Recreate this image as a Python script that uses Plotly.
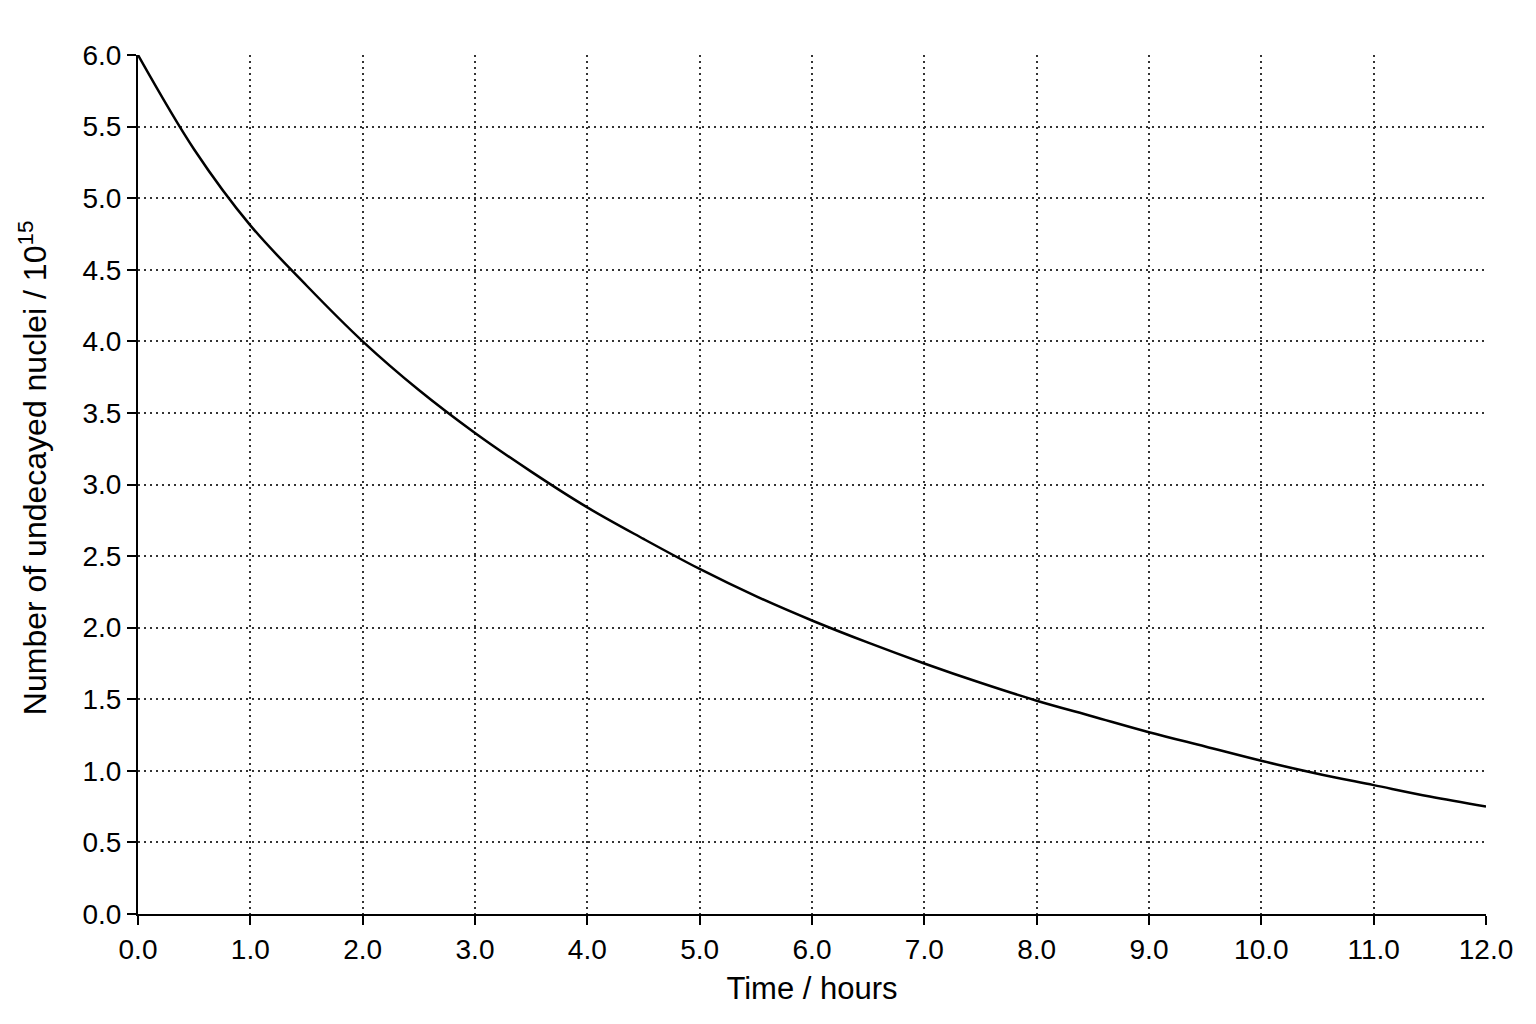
import plotly.graph_objects as go

# values every half hour (nuclei in units of 10^15)
time_h = [0.0, 0.5, 1.0, 1.5, 2.0, 2.5, 3.0, 3.5, 4.0, 4.5, 5.0, 5.5, 6.0,
          6.5, 7.0, 7.5, 8.0, 8.5, 9.0, 9.5, 10.0, 10.5, 11.0, 11.5, 12.0]
nuclei = [6.0, 5.34, 4.81, 4.39, 4.0, 3.66, 3.36, 3.09, 2.84, 2.62, 2.41, 2.22, 2.05,
          1.895, 1.75, 1.615, 1.49, 1.38, 1.27, 1.17, 1.07, 0.98, 0.90, 0.82, 0.75]

x_ticks = [i * 1.0 for i in range(13)]
y_ticks = [i * 0.5 for i in range(13)]

font_family = "Liberation Sans, Arial, sans-serif"

fig = go.Figure()
fig.add_trace(go.Scatter(
    x=time_h, y=nuclei, mode="lines",
    line=dict(color="black", width=2.5, shape="spline", smoothing=1.0),
    showlegend=False, hoverinfo="skip",
))

axis_common = dict(
    showline=True, linecolor="black", linewidth=2,
    ticks="outside", ticklen=9, tickwidth=2, tickcolor="black",
    showgrid=True, gridcolor="#333333", gridwidth=1.5, griddash="2px,4px",
    zeroline=False,
    tickfont=dict(family=font_family, size=28, color="black"),
    title_font=dict(family=font_family, size=31, color="black"),
)

fig.update_xaxes(
    range=[0, 12], tickvals=x_ticks,
    ticktext=[f"{v:.1f}" for v in x_ticks],
    title_text="Time / hours", title_standoff=14,
    **axis_common,
)
fig.update_yaxes(
    range=[0, 6], tickvals=y_ticks,
    ticktext=[f"{v:.1f}" for v in y_ticks],
    **axis_common,
)

# y title as a rotated annotation so it can sit a little above centre, like the original
fig.add_annotation(
    text="Number of undecayed nuclei / 10<sup>15</sup>",
    xref="paper", yref="paper", x=-0.078, y=0.52,
    xanchor="center", yanchor="middle", textangle=-90, showarrow=False,
    font=dict(family=font_family, size=32, color="black"),
)

# page has an 8px body margin, so the figure is a bit smaller than the window
fig.update_layout(
    width=1520, height=1008,
    margin=dict(l=130, r=42, t=47, b=102),
    plot_bgcolor="white", paper_bgcolor="white",
    font=dict(family=font_family, color="black"),
)

fig.write_html("out.html")
